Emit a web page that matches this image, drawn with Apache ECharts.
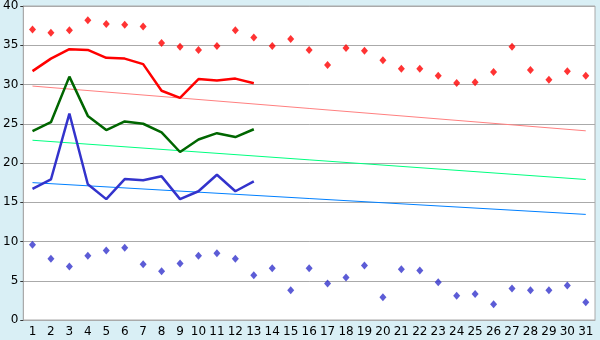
<!DOCTYPE html>
<html><head><meta charset="utf-8">
<script src="https://cdn.jsdelivr.net/npm/echarts@6/dist/echarts.min.js"></script>
<style>html,body{margin:0;padding:0;background:#d9eff5;}#c{width:600px;height:340px;}</style>
</head><body><div id="c"></div>
<script>
var categories = ['1','2','3','4','5','6','7','8','9','10','11','12','13','14','15','16','17','18','19','20','21','22','23','24','25','26','27','28','29','30','31'];
var maxPoints = [37.0,36.6,36.9,38.2,37.7,37.6,37.4,35.3,34.8,34.4,34.9,36.9,36.0,34.9,35.8,34.4,32.5,34.65,34.3,33.1,32.0,32.0,31.1,30.2,30.3,31.6,34.8,31.85,30.6,31.7,31.1];
var minPoints = [9.6,7.8,6.8,8.2,8.85,9.2,7.1,6.2,7.2,8.2,8.5,7.8,5.7,6.6,3.8,6.6,4.65,5.4,6.95,2.9,6.45,6.3,4.8,3.1,3.3,2.0,4.0,3.8,3.8,4.4,2.25];
var redLine = [31.7,33.3,34.5,34.4,33.4,33.3,32.6,29.2,28.3,30.7,30.5,30.75,30.15];
var greenLine = [24.05,25.2,31.0,26.0,24.2,25.3,25.0,23.9,21.4,23.0,23.8,23.3,24.3];
var blueLine = [16.7,17.9,26.3,17.3,15.4,17.95,17.8,18.3,15.4,16.4,18.5,16.4,17.65];
var trendRed = [['1',29.8],['31',24.1]];
var trendGreen = [['1',22.9],['31',17.9]];
var trendBlue = [['1',17.5],['31',13.45]];
var yTicks = [0,5,10,15,20,25,30,35,40];

var chart = echarts.init(document.getElementById('c'), null, {renderer:'canvas'});
var font = 'DejaVu Sans';
function lineS(data, color, w){return {type:'line', data:data, symbol:'none', lineStyle:{color:color,width:w}, itemStyle:{color:color}, animation:false, z:3};}
function scat(data, color){return {type:'scatter', data:data, symbol:'diamond', symbolSize:[7,8], itemStyle:{color:color}, animation:false, z:4};}
chart.setOption({
  backgroundColor:'#d9eff5',
  animation:false,
  grid:{left:20.5, right:5, top:5.5, bottom:20, show:true, backgroundColor:'#ffffff', borderColor:'#aaaaaa', borderWidth:1},
  xAxis:{type:'category', data:categories, boundaryGap:true,
    axisLine:{lineStyle:{color:'#aaaaaa'}},
    axisTick:{alignWithLabel:true, length:4, lineStyle:{color:'#333333'}},
    axisLabel:{color:'#000', fontFamily:font, fontSize:12, margin:6, interval:0},
    splitLine:{show:false}},
  yAxis:{type:'value', min:yTicks[0], max:yTicks[yTicks.length-1], interval:5,
    axisLine:{show:true, lineStyle:{color:'#aaaaaa'}},
    axisTick:{show:true, length:3, lineStyle:{color:'#333333'}},
    axisLabel:{color:'#000', fontFamily:font, fontSize:12, margin:5},
    splitLine:{lineStyle:{color:'#aaaaaa', width:1}}},
  series:[
    lineS(trendRed,'#ff8080',1),
    lineS(trendGreen,'#00ff80',1),
    lineS(trendBlue,'#0080ff',1),
    lineS(redLine,'#ff0000',2.5),
    lineS(greenLine,'#006600',2.5),
    lineS(blueLine,'#3333cc',2.5),
    scat(maxPoints,'#ff0000'),
    scat(minPoints,'#3333cc')
  ]
});
</script></body></html>
